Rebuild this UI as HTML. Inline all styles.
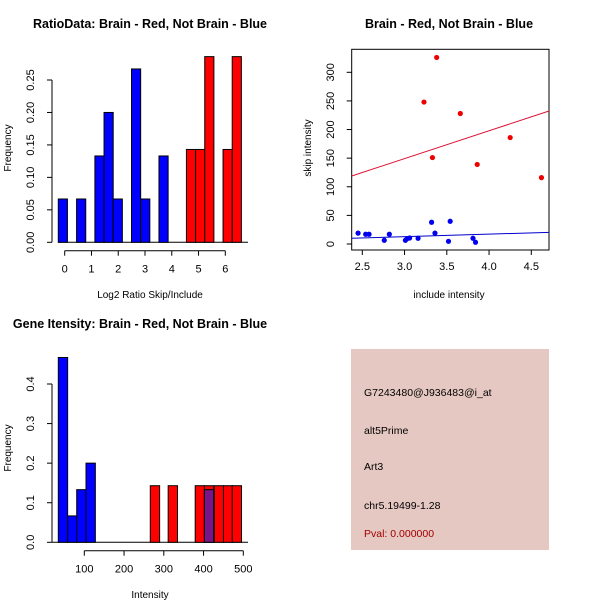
<!DOCTYPE html>
<html><head><meta charset="utf-8">
<style>
html,body{margin:0;padding:0;background:#fff;}
svg{display:block;font-family:"Liberation Sans",sans-serif;}
</style></head>
<body>
<svg id="c" width="600" height="600" viewBox="0 0 600 600" xmlns="http://www.w3.org/2000/svg">
<rect width="600" height="600" fill="#fff"/>
</svg>
<script>
// ---- Panel 1: ratio histogram ----
const ratioBinStart = -0.24;
const ratioBinWidth = 0.342;
const ratioBlueBins = [0,2,4,5,6,8,9,11];
const ratioBlueFreq = [0.0667,0.0667,0.133,0.2,0.0667,0.267,0.0667,0.133];
const ratioRedBins = [14,15,16,18,19];
const ratioRedFreq = [0.143,0.143,0.286,0.143,0.286];
const ratioXTicks = [0,1,2,3,4,5,6];
const ratioYTicks = [0,0.05,0.10,0.15,0.20,0.25];
const ratioYLabels = ["0.00","0.05","0.10","0.15","0.20","0.25"];
// ---- Panel 2: scatter ----
const blueInclude = [2.45,2.54,2.58,2.76,2.82,3.01,3.03,3.06,3.16,3.32,3.36,3.52,3.54,3.81,3.84];
const blueSkip = [19,17,17,6.5,17,6.5,9.3,10.5,10,38,19,4.7,39.7,10,3];
const redInclude = [3.38,3.23,3.66,4.25,3.33,3.86,4.62];
const redSkip = [326,248,228,186,151,139,116];
const redFit = [3.26,48.65];   // intercept, slope
const blueFit = [-0.57,4.45];
const scatterXTicks = [2.5,3.0,3.5,4.0,4.5];
const scatterXLabels = ["2.5","3.0","3.5","4.0","4.5"];
const scatterYTicks = [0,50,100,150,200,250,300];
// ---- Panel 3: intensity histogram ----
const intBinWidth = 23.5;
const intBlueStarts = [34.6,58.2,80.9,104.3];
const intBlueFreq = [0.467,0.0667,0.133,0.2];
const intRedStarts = [266,311,379,402,427,450,472];
const intRedFreq = [0.143,0.143,0.143,0.143,0.143,0.143,0.143];
const intPurpleStarts = [402];
const intPurpleFreq = [0.133];
const intXTicks = [100,200,300,400,500];
const intYTicks = [0,0.1,0.2,0.3,0.4];
const intYLabels = ["0.0","0.1","0.2","0.3","0.4"];

const svg = document.getElementById('c');
const NS = 'http://www.w3.org/2000/svg';
function mk(tag, attrs, parent, text){
  const e = document.createElementNS(NS, tag);
  for (const k in attrs) e.setAttribute(k, attrs[k]);
  if (text !== undefined) e.textContent = text;
  (parent||svg).appendChild(e);
  return e;
}
function lin(d0,d1,r0,r1){ return v => r0 + (v-d0)*(r1-r0)/(d1-d0); }

function yAxis(g, ticks, labels, sy, x, lx){
  const l = mk('line',{x1:x,x2:x,y1:sy(ticks[0]),y2:sy(ticks[ticks.length-1]),stroke:'#000'},g);
  
  
  ticks.forEach((t,i)=>{
    const tk = mk('line',{x1:x-5,x2:x,y1:sy(t),y2:sy(t),stroke:'#000'},g);
    
    
    const tx = mk('text',{x:lx,y:sy(t),'font-size':11,'text-anchor':'middle',transform:`rotate(-90 ${lx} ${sy(t)})`},g,labels[i]);
    
    
  });
}
function xAxis(g, ticks, labels, sx, y){
  const l = mk('line',{x1:sx(ticks[0]),x2:sx(ticks[ticks.length-1]),y1:y,y2:y,stroke:'#000'},g);
  
  
  ticks.forEach((t,i)=>{
    const tk = mk('line',{x1:sx(t),x2:sx(t),y1:y,y2:y+5,stroke:'#000'},g);
    
    
    const tx = mk('text',{x:sx(t),y:y+22,'font-size':11,'text-anchor':'middle'},g,labels[i]);
    
    
  });
}
function label(g, txt, x, y, rot, name, bold, size){
  const a = {x:x,y:y,'font-size':size||10,'text-anchor':'middle'};
  if (rot) a.transform = `rotate(-90 ${x} ${y})`;
  if (bold) a['font-weight'] = 'bold';
  const t = mk('text',a,g,txt);
  
  
}
function bar(g, x0, x1, y0, y1, fill, name){
  const r = mk('rect',{x:Math.min(x0,x1),y:Math.min(y0,y1),width:Math.abs(x1-x0),height:Math.abs(y1-y0),fill:fill,stroke:'#000','stroke-width':1},g);
  
  
}

// Panel 1
(function(){
  const g = mk('g',{});
  
  
  const sx = lin(0,6,64.7,225.3);
  const sy = lin(0,0.25,242.3,80);
  const b0 = sy(0);
  mk('line',{x1:58,x2:248,y1:b0,y2:b0,stroke:'#000'},g);
  ratioBlueBins.forEach((b,i)=>{
    const x0 = ratioBinStart + b*ratioBinWidth;
    bar(g, sx(x0), sx(x0+ratioBinWidth), b0, sy(ratioBlueFreq[i]), '#0000ff', 'bar-not-brain');
  });
  ratioRedBins.forEach((b,i)=>{
    const x0 = ratioBinStart + b*ratioBinWidth;
    bar(g, sx(x0), sx(x0+ratioBinWidth), b0, sy(ratioRedFreq[i]), '#ff0000', 'bar-brain');
  });
  xAxis(g, ratioXTicks, ratioXTicks.map(String), sx, 250.7);
  yAxis(g, ratioYTicks, ratioYLabels, sy, 52, 34);
  label(g,'RatioData: Brain - Red, Not Brain - Blue',150,28,false,'ratio-title',true,12.5);
  label(g,'Log2 Ratio Skip/Include',150,298,false,'x-axis-title');
  label(g,'Frequency',11,148,true,'y-axis-title');
})();

// Panel 2
(function(){
  const g = mk('g',{});
  
  
  const sx = lin(2.5,4.5,362.3,531.3);
  const sy = lin(0,300,244,72.3);
  const bx0=351.7,bx1=549,by0=49.3,by1=250;
  const box = mk('rect',{x:bx0,y:by0,width:bx1-bx0,height:by1-by0,fill:'none',stroke:'#000'},g);
  
  
  const xmin = 2.375, xmax = 4.71;
  const rl = mk('line',{x1:sx(xmin),x2:sx(xmax),y1:sy(redFit[0]+redFit[1]*xmin),y2:sy(redFit[0]+redFit[1]*xmax),stroke:'#dd1133'},g);
  
  
  const bl = mk('line',{x1:sx(xmin),x2:sx(xmax),y1:sy(blueFit[0]+blueFit[1]*xmin),y2:sy(blueFit[0]+blueFit[1]*xmax),stroke:'#0000cc'},g);
  
  
  blueInclude.forEach((v,i)=>{
    const c = mk('circle',{cx:sx(v),cy:sy(blueSkip[i]),r:2.6,fill:'#0000ee'},g);
    
    
  });
  redInclude.forEach((v,i)=>{
    const c = mk('circle',{cx:sx(v),cy:sy(redSkip[i]),r:2.6,fill:'#ee0000'},g);
    
    
  });
  scatterXTicks.forEach((t,i)=>{
    const tk = mk('line',{x1:sx(t),x2:sx(t),y1:by1,y2:by1+5,stroke:'#000'},g);
    
    
    const tx = mk('text',{x:sx(t),y:by1+20,'font-size':11,'text-anchor':'middle'},g,scatterXLabels[i]);
    
    
  });
  scatterYTicks.forEach(t=>{
    const tk = mk('line',{x1:bx0-5,x2:bx0,y1:sy(t),y2:sy(t),stroke:'#000'},g);
    
    
    const lx=334;
    const tx = mk('text',{x:lx,y:sy(t),'font-size':11,'text-anchor':'middle',transform:`rotate(-90 ${lx} ${sy(t)})`},g,String(t));
    
    
  });
  label(g,'Brain - Red, Not Brain - Blue',449,28,false,'scatter-title',true,12.5);
  label(g,'include intensity',449,298,false,'x-axis-title');
  label(g,'skip intensity',311,148,true,'y-axis-title');
})();

// Panel 3
(function(){
  const g = mk('g',{});
  
  
  const sx = lin(100,500,84.3,243.3);
  const sy = lin(0,0.4,542.3,384);
  const b0 = sy(0);
  mk('line',{x1:52,x2:248,y1:b0,y2:b0,stroke:'#000'},g);
  intBlueStarts.forEach((s,i)=>bar(g,sx(s),sx(s+intBinWidth),b0,sy(intBlueFreq[i]),'#0000ff','bar-not-brain'));
  intRedStarts.forEach((s,i)=>bar(g,sx(s),sx(s+intBinWidth),b0,sy(intRedFreq[i]),'#ff0000','bar-brain'));
  intPurpleStarts.forEach((s,i)=>bar(g,sx(s),sx(s+intBinWidth),b0,sy(intPurpleFreq[i]),'#7a1488','bar-overlap'));
  xAxis(g, intXTicks, intXTicks.map(String), sx, 550.7);
  yAxis(g, intYTicks, intYLabels, sy, 52, 34);
  label(g,'Gene Itensity: Brain - Red, Not Brain - Blue',140,328,false,'gene-intensity-title',true,12.5);
  label(g,'Intensity',150,598,false,'x-axis-title');
  label(g,'Frequency',11,448,true,'y-axis-title');
})();

// Panel 4: info box
(function(){
  const g = mk('g',{});
  
  
  const r = mk('rect',{x:351,y:349,width:198,height:201,fill:'#e6c8c2'},g);
  
  
  const lines = [['G7243480@J936483@i_at',396,'probe-id-text','#000'],['alt5Prime',434,'event-type-text','#000'],['Art3',470,'gene-name-text','#000'],['chr5.19499-1.28',509,'location-text','#000'],['Pval: 0.000000',537,'pval-text','#a00000']];
  lines.forEach(l=>{
    const t = mk('text',{x:364,y:l[1],'font-size':10.5,fill:l[3]},g,l[0]);
    
    
  });
})();
</script>
</body></html>
